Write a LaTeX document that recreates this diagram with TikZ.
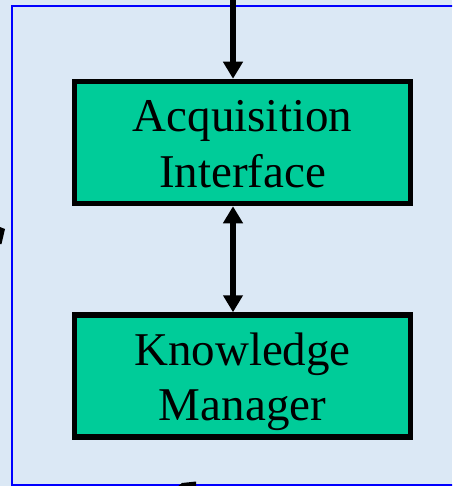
\documentclass[tikz,border=0pt]{standalone}
\usepackage{fontspec}
\setmainfont{Liberation Serif}
\usetikzlibrary{arrows.meta}
\definecolor{bgblue}{RGB}{219,232,245}
\definecolor{boxgreen}{RGB}{0,204,153}
\definecolor{framblue}{RGB}{0,0,255}
\tikzset{
  modulebox/.style={draw=black, line width=5.5pt, fill=boxgreen,
    minimum width=336pt, minimum height=122pt, inner sep=0pt,
    align=center, font=\fontsize{47}{55.5}\selectfont,
    text height=89.5pt, text depth=0pt},
  arr/.style={line width=5.8pt, -{Triangle[length=17pt,width=19pt]}},
  dblarr/.style={line width=5.8pt, {Triangle[length=17pt,width=19pt]}-{Triangle[length=17pt,width=19pt]}},
  frameline/.style={draw=framblue, line width=1.6pt}
}
\begin{document}
\begin{tikzpicture}[x=1pt,y=-1pt]
\useasboundingbox (0,0) rectangle (452,486);
\clip (0,0) rectangle (452,486);
\fill[bgblue] (0,0) rectangle (452,486);
\draw[frameline] (12,6) rectangle (470,485);
\node[modulebox] (acq) at (242.5,142.5) {Acquisition\\Interface};
\node[modulebox] (km) at (242.5,376) {Knowledge\\Manager};
\coordinate (topin) at (233,-5);
\draw[arr] (topin) -- (topin |- acq.north);
\draw[dblarr] (acq.south -| topin) -- (km.north -| topin);
\fill[black] (0,227) -- (5,229) -- (1.5,244) -- (0,244) -- cycle;
\fill[black] (177,487) -- (182,483) -- (196,481.5) -- (196,487) -- cycle;
\end{tikzpicture}
\end{document}
